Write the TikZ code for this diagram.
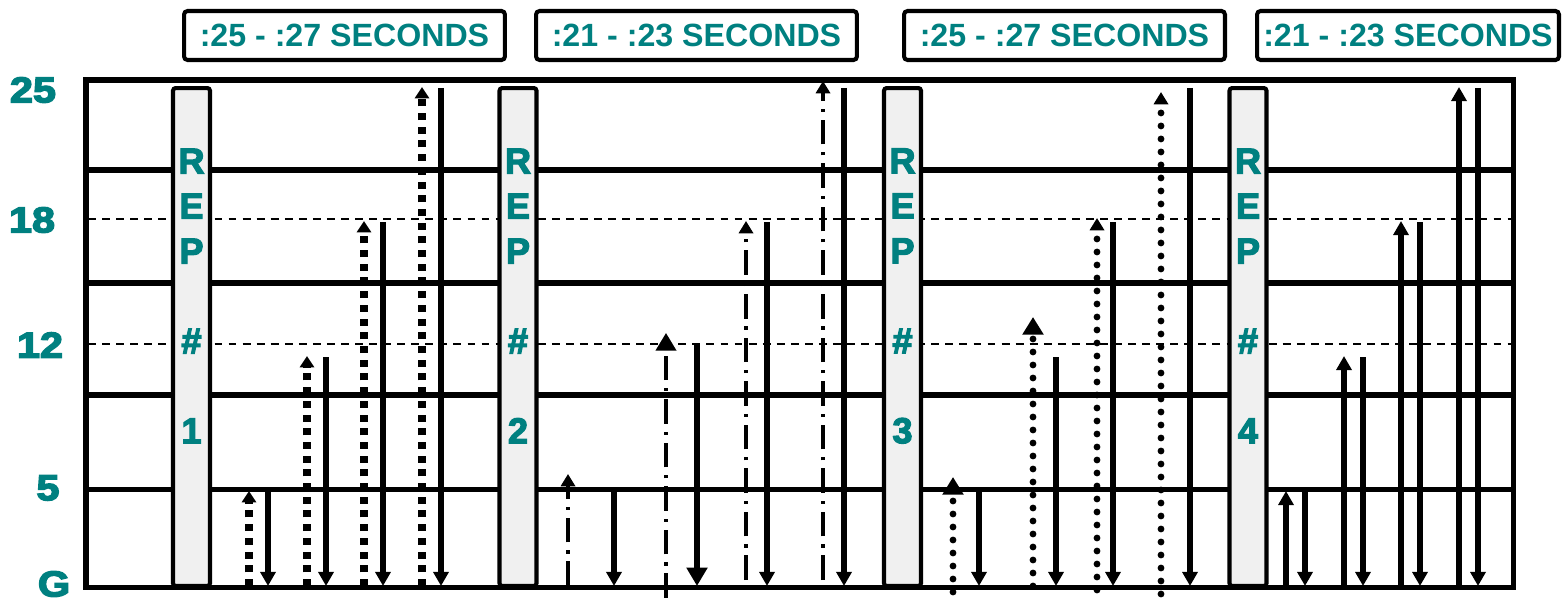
\documentclass[tikz,border=0pt]{standalone}
\usepackage{fontspec}
\setmainfont{Liberation Sans}
\newfontfamily\axisfont[FakeStretch=1.15, BoldFeatures={FakeBold=4}]{Liberation Sans}
\newfontfamily\repfont[BoldFeatures={FakeBold=3.5}]{Liberation Sans}
\usetikzlibrary{arrows.meta}
\definecolor{repteal}{RGB}{0,128,128}
\definecolor{repbg}{RGB}{240,240,240}
\tikzset{
  hdr/.style={draw, line width=2.3pt, rounded corners=2pt, minimum height=0.98cm,
              inner sep=0pt, font=\fontsize{18.3}{21}\selectfont\bfseries, text=repteal},
  ylab/.style={font=\axisfont\fontsize{20.5}{24}\selectfont\bfseries, text=repteal},
  repbar/.style={draw, line width=2.3pt, rounded corners=1.5pt, fill=repbg,
                 minimum width=0.74cm, minimum height=9.96cm, inner sep=0pt},
  replab/.style={align=center, font=\repfont\fontsize{20.5}{25.6}\selectfont\bfseries, text=repteal},
  rule/.style={line width=2.85pt},
  guide/.style={line width=1.1pt, dash pattern=on 4.5pt off 3.5pt},
  down/.style={-{Triangle[width=8.5pt,length=8pt]}, line width=2.9pt},
  bigdown/.style={-{Triangle[width=11.5pt,length=10.5pt]}, line width=3pt},
  upsq/.style={-{Triangle[width=8pt,length=6.5pt]}, line width=4pt, dash pattern=on 4pt off 3.8pt},
  updd/.style={-{Triangle[width=8pt,length=7pt]}, line width=1.8pt,
               dash pattern=on 14pt off 4.5pt on 1.8pt off 4.5pt},
  uprd/.style={-{Triangle[width=8pt,length=7pt]}, line width=3.9pt, line cap=round,
               dash pattern=on 0pt off 7.4pt},
  upsol/.style={-{Triangle[width=8.5pt,length=8pt]}, line width=3pt},
  bighead/.style={-{Triangle[width=11.5pt,length=10pt]}}
}

\begin{document}
\begin{tikzpicture}[x=0.02cm, y=-0.02cm]
  \useasboundingbox (0,0) rectangle (1562,598);

  % headers
  \node[hdr, minimum width=6.42cm] (h1) at (344.5,35.5) {:25 - :27 SECONDS};
  \node[hdr, minimum width=6.42cm] (h2) at (696.5,35.5) {:21 - :23 SECONDS};
  \node[hdr, minimum width=6.42cm] (h3) at (1064.5,35.5) {:25 - :27 SECONDS};
  \node[hdr, minimum width=6.04cm] (h4) at (1408,35.5) {:21 - :23 SECONDS};

  % levels
  \node[ylab] (l25) at (33,90)  {25};
  \node[ylab] (l18) at (32,220) {18};
  \node[ylab] (l12) at (40,345) {12};
  \node[ylab] (l5)  at (48,488) {5};
  \node[ylab] (lg)  at (54,584) {G};

  % grid
  \draw[rule] (86,170) -- (1513,170);
  \draw[rule] (86,283) -- (1513,283);
  \draw[rule] (86,395) -- (1513,395);
  \draw[rule] (86,489) -- (1513,489);
  \draw[guide] (88,219) -- (1511,219);
  \draw[guide] (88,344) -- (1511,344);
  \draw[rule] (86,80) rectangle (1513,587);

  % rep bars
  \node[repbar] (r1) at (191.5,337) {};
  \node[repbar] (r2) at (518,337) {};
  \node[repbar] (r3) at (902.5,337) {};
  \node[repbar] (r4) at (1248,337) {};
  \node[replab] at (191.5,296) {R\\E\\P\\\strut\\\#\\\strut\\1};
  \node[replab] at (518,296)   {R\\E\\P\\\strut\\\#\\\strut\\2};
  \node[replab] at (902.5,296) {R\\E\\P\\\strut\\\#\\\strut\\3};
  \node[replab] at (1248,296)  {R\\E\\P\\\strut\\\#\\\strut\\4};

  % rep 1: square dots up
  \draw[upsq] (249,586) -- (249,491);
  \draw[down] (268,489) -- (268,586);
  \draw[upsq] (307,586) -- (307,356);
  \draw[down] (326,357) -- (326,586);
  \draw[upsq] (364,586) -- (364,221);
  \draw[down] (383,222) -- (383,586);
  \draw[upsq] (422,586) -- (422,87);
  \draw[down] (441,88) -- (441,586);

  % rep 2: dash dot up
  \draw[updd] (568,586) -- (568,474);
  \draw[down] (614,489) -- (614,586);
  \draw[updd, bighead] (666,598) -- (666,333);
  \draw[bigdown] (697,345) -- (697,586);
  \draw[updd] (746,580) -- (746,221);
  \draw[down] (767,222) -- (767,586);
  \draw[updd] (823,580) -- (823,81);
  \draw[down] (844,88) -- (844,586);

  % rep 3: round dots up
  \draw[uprd, bighead] (953,592) -- (953,477);
  \draw[down] (979,489) -- (979,586);
  \draw[uprd, bighead] (1033,586) -- (1033,317);
  \draw[down] (1056,357) -- (1056,586);
  \draw[uprd] (1097,590) -- (1097,218);
  \draw[down] (1113,222) -- (1113,586);
  \draw[uprd] (1161,594) -- (1161,92);
  \draw[down] (1190,88) -- (1190,586);

  % rep 4: solid up
  \draw[upsol] (1286,586) -- (1286,491);
  \draw[down] (1305,489) -- (1305,586);
  \draw[upsol] (1344,586) -- (1344,356);
  \draw[down] (1363,357) -- (1363,586);
  \draw[upsol] (1401,586) -- (1401,221);
  \draw[down] (1420,222) -- (1420,586);
  \draw[upsol] (1459,586) -- (1459,87);
  \draw[down] (1478,88) -- (1478,586);
\end{tikzpicture}
\end{document}
